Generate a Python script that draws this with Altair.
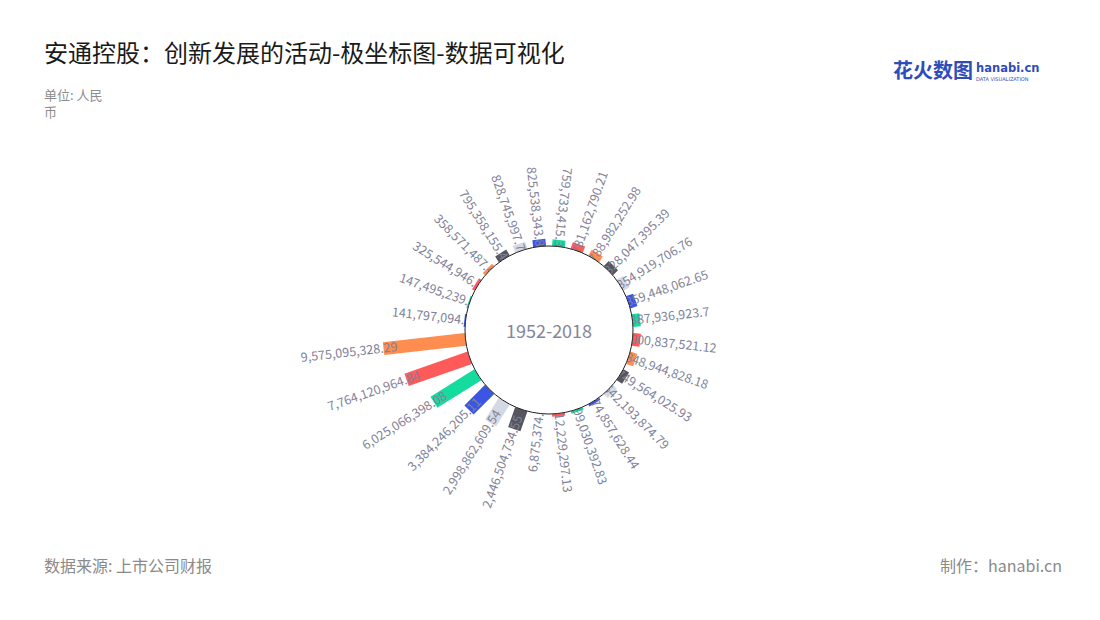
import math
import altair as alt
import pandas as pd

# ---- data (in angular order, clockwise from 9 o'clock) ----
values = [
    141797094.52, 147495239.36, 325544946.71, 358571487.49, 795358155.42,
    828745997.74, 825538343.86, 759733415.36, 781162790.21, 788982252.98,
    828047395.39, 854919706.76, 859448062.65, 887936923.7, 900837521.12,
    848944828.18, 749564025.93, 642193874.79, 274857628.44, 299030392.83,
    312229297.13, 6875374.38, 2446504734.55, 2998862609.54, 3384246205.11,
    6025066398.08, 7764120964.84, 9575095328.29,
]
labels = [f"{v:,.2f}".rstrip("0").rstrip(".") for v in values]
palette_keys = ["c0", "c1", "c2", "c3", "c4", "c5"]
palette = ["#3b56e2", "#14db9e", "#ff5a5a", "#ff8d50", "#56565f", "#d5d9e6"]
center_label = "1952-2018"
title_text = "安通控股：创新发展的活动-极坐标图-数据可视化"
unit_lines = ["单位: 人民", "币"]
source_text = "数据来源: 上市公司财报"
maker_text = "制作：hanabi.cn"

n = len(values)
df = pd.DataFrame({
    "idx": list(range(n)),
    "value": values,
    "label": labels,
    "cidx": [palette_keys[i % 6] for i in range(n)],
})

FONT = "Noto Sans CJK SC"
CX, CY = 541, 322
R0 = 84
W, H = 1084, 604

theta_scale = alt.Scale(domain=[0, n], range=[1.5 * math.pi, 3.5 * math.pi])
radius_scale = alt.Scale(type="linear", domain=[0, max(values)], range=[R0, 166.5])

base = alt.Chart(df).transform_calculate(mid="datum.idx + 0.5")

bars = base.mark_arc(strokeWidth=13, strokeJoin="bevel", fillOpacity=0).encode(
    theta=alt.Theta("mid:Q", scale=theta_scale),
    theta2="mid:Q",
    radius=alt.Radius("value:Q", scale=radius_scale),
    radius2=alt.value(R0),
    stroke=alt.Stroke("cidx:N", scale=alt.Scale(domain=palette_keys, range=palette), legend=None),
    x=alt.value(CX),
    y=alt.value(CY),
)

label_style = dict(baseline="middle", font=FONT, fontSize=12.5, color="#818298")

right_labels = base.transform_filter(
    "datum.idx >= 8 && datum.idx <= 20"
).transform_calculate(
    ang=f"(180 + datum.mid * 360 / {n}) % 360"
).mark_text(align="left", radiusOffset=-10, **label_style).encode(
    theta=alt.Theta("mid:Q", scale=theta_scale),
    radius=alt.Radius("value:Q", scale=radius_scale),
    text="label:N",
    angle=alt.Angle("ang:Q", scale=None),
    x=alt.value(CX),
    y=alt.value(CY),
)

left_labels = base.transform_filter(
    "datum.idx < 8 || datum.idx > 20"
).transform_calculate(
    ang=f"(360 + datum.mid * 360 / {n}) % 360"
).mark_text(align="right", radiusOffset=-14, **label_style).encode(
    theta=alt.Theta("mid:Q", scale=theta_scale),
    radius=alt.Radius("value:Q", scale=radius_scale),
    text="label:N",
    angle=alt.Angle("ang:Q", scale=None),
    x=alt.value(CX),
    y=alt.value(CY),
)

one = pd.DataFrame({"k": [0]})

circle = alt.Chart(one).mark_arc(fill="white", stroke="#1f1f1f", strokeWidth=1).encode(
    theta=alt.value(0),
    theta2=alt.value(2 * math.pi),
    radius=alt.value(R0),
    x=alt.value(CX),
    y=alt.value(CY),
)

center = alt.Chart(one).mark_text(
    text=center_label, font=FONT, fontSize=18, color="#85869a", align="center", baseline="middle"
).encode(x=alt.value(CX), y=alt.value(CY + 3))

title = alt.Chart(one).mark_text(
    text=title_text, font=FONT, fontSize=24, color="#1a1a1a", align="left", baseline="middle"
).encode(x=alt.value(36), y=alt.value(47))

unit1 = alt.Chart(one).mark_text(
    text=unit_lines[0], font=FONT, fontSize=13, color="#8c8c8c", align="left", baseline="middle"
).encode(x=alt.value(36), y=alt.value(88))
unit2 = alt.Chart(one).mark_text(
    text=unit_lines[1], font=FONT, fontSize=13, color="#8c8c8c", align="left", baseline="middle"
).encode(x=alt.value(36), y=alt.value(105))

source = alt.Chart(one).mark_text(
    text=source_text, font=FONT, fontSize=16, color="#8a8a8a", align="left", baseline="middle"
).encode(x=alt.value(36), y=alt.value(559))

maker = alt.Chart(one).mark_text(
    text=maker_text, font=FONT, fontSize=16, color="#8a8a8a", align="right", baseline="middle"
).encode(x=alt.value(1054), y=alt.value(559))

logo1 = alt.Chart(one).mark_text(
    text="花火数图", font=FONT, fontSize=20, fontWeight="bold", color="#2f4db8",
    align="left", baseline="middle"
).encode(x=alt.value(885), y=alt.value(64))
logo2 = alt.Chart(one).mark_text(
    text="hanabi.cn", font="DejaVu Sans", fontSize=11.5, fontWeight="bold", color="#2f4db8",
    align="left", baseline="middle"
).encode(x=alt.value(968), y=alt.value(61))
logo3 = alt.Chart(one).mark_text(
    text="DATA VISUALIZATION", font="DejaVu Sans", fontSize=5, color="#2f4db8",
    align="left", baseline="middle"
).encode(x=alt.value(968), y=alt.value(71))

chart = alt.layer(
    bars, right_labels, left_labels, circle, center,
    title, unit1, unit2, source, maker, logo1, logo2, logo3,
).properties(
    width=W, height=H, padding=0,
    autosize=alt.AutoSizeParams(type="fit", contains="padding"),
).configure_view(stroke=None)

chart.save("out.html", embed_options={"renderer": "svg", "actions": False})
